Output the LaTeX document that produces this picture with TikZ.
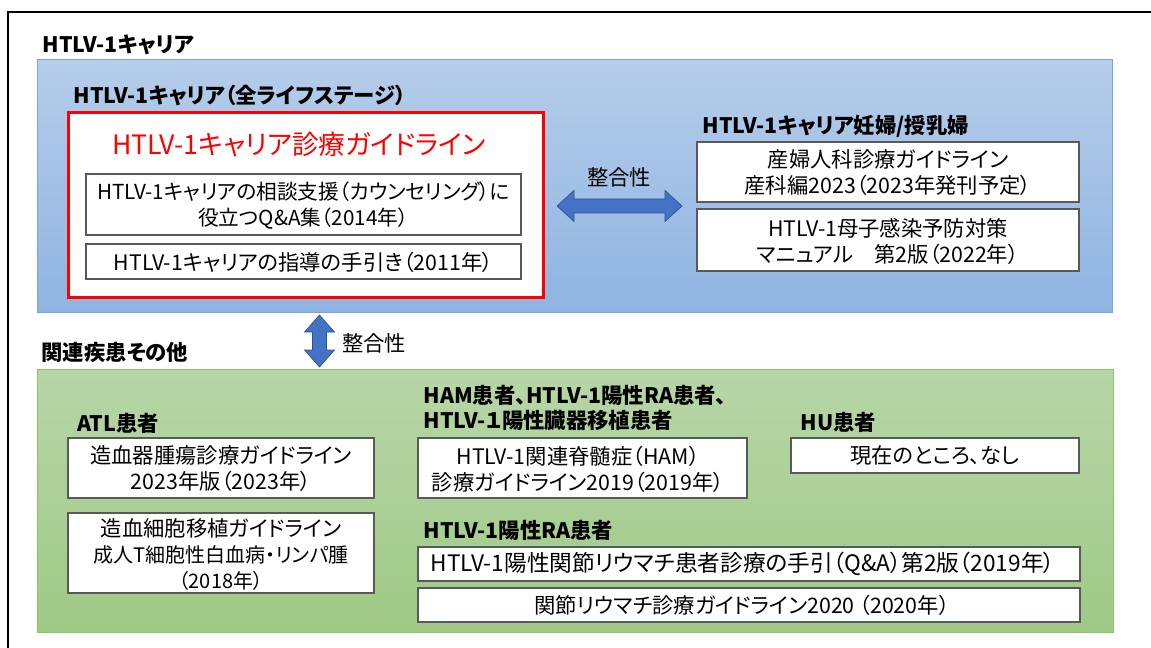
\documentclass[tikz,border=0pt]{standalone}
\usepackage{fontspec}
\setmainfont{Noto Sans CJK JP}[RawFeature=+palt]

\tikzset{every picture/.style={line width=0.75pt}}
\tikzset{
  wbox/.style={draw={rgb, 255:red, 89; green, 89; blue, 89}, fill=white, line width=0.9pt},
  head/.style={font=\bfseries\fontsize{16}{19}\selectfont, anchor=west, inner sep=0pt},
  txt/.style={font=\fontsize{16}{19.5}\selectfont, align=center, inner sep=0pt},
  blkarrow/.style={draw={rgb, 255:red, 47; green, 82; blue, 143}, line width=0.5pt, fill={rgb, 255:red, 68; green, 114; blue, 196}}
}

\begin{document}
\begin{tikzpicture}[x=0.75pt,y=0.75pt,yscale=-1,xscale=1]
	\useasboundingbox (0,0) rectangle (1151,648);

	%Straight Lines [frame]
	\draw [line width=1.5pt]  (8,648) -- (8,12) -- (1151,12) ;

	%Shape: Rectangle [carrier area]
	\draw  [draw={rgb, 255:red, 125; green, 165; blue, 215}, top color={rgb, 255:red, 181; green, 205; blue, 234}, bottom color={rgb, 255:red, 143; green, 180; blue, 225}] (37,60) rectangle (1112,312) ;
	%Shape: Rectangle [related area]
	\draw  [draw={rgb, 255:red, 140; green, 196; blue, 102}, top color={rgb, 255:red, 183; green, 214; blue, 167}, bottom color={rgb, 255:red, 159; green, 201; blue, 134}] (37,369) rectangle (1113,632) ;

	%Shape: Rectangle [red guideline box]
	\draw  [draw={rgb, 255:red, 255; green, 0; blue, 0}, line width=2.25pt, fill=white] (68,113) rectangle (543,297) ;
	%Shape: Rectangle
	\draw  [wbox] (86,174) rectangle (521,235) ;
	%Shape: Rectangle
	\draw  [wbox] (86,244) rectangle (521,279) ;
	%Shape: Rectangle
	\draw  [wbox] (697,142) rectangle (1079,202) ;
	%Shape: Rectangle
	\draw  [wbox] (697,209) rectangle (1079,271) ;
	%Shape: Rectangle
	\draw  [wbox] (68,438) rectangle (374,498) ;
	%Shape: Rectangle
	\draw  [wbox] (68,513) rectangle (374,593) ;
	%Shape: Rectangle
	\draw  [wbox] (418,438) rectangle (747,498) ;
	%Shape: Rectangle
	\draw  [wbox] (791,438) rectangle (1079,473) ;
	%Shape: Rectangle
	\draw  [wbox] (418,547) rectangle (1080,581) ;
	%Shape: Rectangle
	\draw  [wbox] (418,588) rectangle (1080,622) ;

	%Left Right Arrow [consistency, horizontal]
	\draw  [blkarrow] (557,206) -- (574,190.5) -- (574,199) -- (665,199) -- (665,190.5) -- (682,206) -- (665,221.5) -- (665,213) -- (574,213) -- (574,221.5) -- cycle ;
	%Up Down Arrow [consistency, vertical]
	\draw  [blkarrow] (319.5,315) -- (334.5,332) -- (326.5,332) -- (326.5,350) -- (334.5,350) -- (319.5,367) -- (304.5,350) -- (312.5,350) -- (312.5,332) -- (304.5,332) -- cycle ;

	% Text Node
	\node [head] (carrier) at (42,45) {HTLV-1キャリア};
	% Text Node
	\node [head] (lifestage) at (73,95) {HTLV-1キャリア（全ライフステージ）};
	% Text Node
	\node [txt, font=\fontsize{20}{24}\selectfont, text={rgb, 255:red, 255; green, 0; blue, 0}] (mainguide) at (299,145) {HTLV-1キャリア診療ガイドライン};
	% Text Node
	\node [txt, font=\fontsize{15.5}{19.5}\selectfont] (qabook) at (303.5,205.5) {HTLV-1キャリアの相談支援（カウンセリング）に\\役立つQ\&A集（2014年）};
	% Text Node
	\node [txt] (tebiki) at (303.5,262) {HTLV-1キャリアの指導の手引き（2011年）};
	% Text Node
	\node [txt, font=\fontsize{16}{19}\selectfont] (seigo1) at (619,177) {整合性};
	% Text Node
	\node [head] (pregnant) at (702,126) {HTLV-1キャリア妊婦/授乳婦};
	% Text Node
	\node [txt] (obgyn) at (888,173) {産婦人科診療ガイドライン\\産科編2023（2023年発刊予定）};
	% Text Node
	\node [txt] (mtct) at (888,241.5) {HTLV-1母子感染予防対策\\マニュアル　第2版（2022年）};
	% Text Node
	\node [txt, font=\fontsize{16}{19}\selectfont] (seigo2) at (374,343) {整合性};
	% Text Node
	\node [head] (related) at (41,352) {関連疾患その他};
	% Text Node
	\node [head] (atl) at (77,423) {ATL患者};
	% Text Node
	\node [txt] (hemato) at (221,469) {造血器腫瘍診療ガイドライン\\2023年版（2023年）};
	% Text Node
	\node [txt] (sct) at (221,554) {造血細胞移植ガイドライン\\{\fontsize{15}{18}\selectfont 成人T細胞性白血病・リンパ腫}\\{\fontsize{15}{18}\selectfont （2018年）}};
	% Text Node
	\node [head, align=left] (ham) at (423,408) {HAM患者、HTLV-1陽性RA患者、\\HTLV-１陽性臓器移植患者};
	% Text Node
	\node [txt] (hamguide) at (578,469) {HTLV-1関連脊髄症（HAM）\\診療ガイドライン2019（2019年）};
	% Text Node
	\node [head] (hu) at (800,422) {HU患者};
	% Text Node
	\node [txt] (none) at (935,455.5) {現在のところ、なし};
	% Text Node
	\node [head] (ra) at (423,530) {HTLV-1陽性RA患者};
	% Text Node
	\node [txt, font=\fontsize{17}{19.5}\selectfont] (rateb) at (743,564) {HTLV-1陽性関節リウマチ患者診療の手引（Q\&A）第2版（2019年）};
	% Text Node
	\node [txt] (raguide) at (742,605) {関節リウマチ診療ガイドライン2020 （2020年）};

\end{tikzpicture}
\end{document}
